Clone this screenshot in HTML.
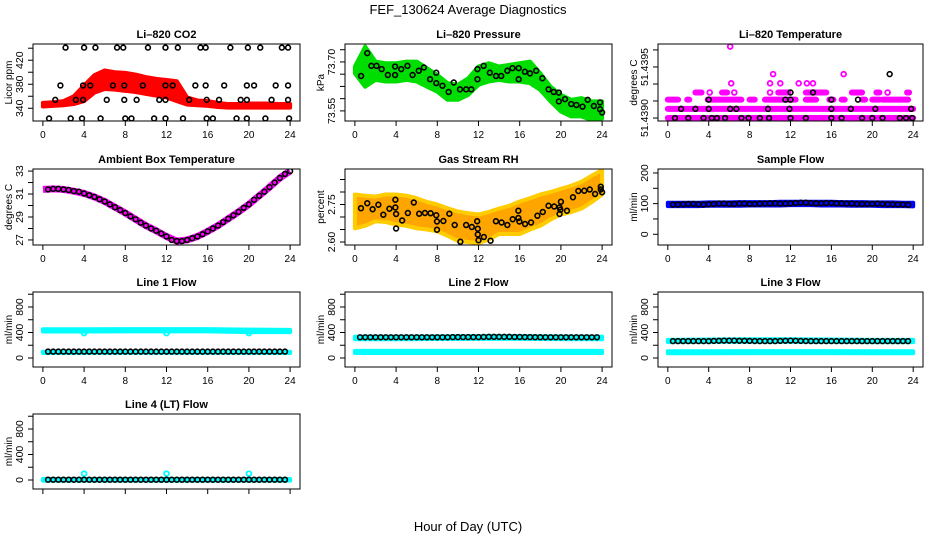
<!DOCTYPE html>
<html><head><meta charset="utf-8"><style>
body{margin:0;background:#fff}
svg{display:block;font-family:"Liberation Sans",Arial,sans-serif}
</style></head><body>
<svg id="c" width="936" height="540" viewBox="0 0 936 540">
<text x="468" y="14" text-anchor="middle" font-size="13">FEF_130624  Average Diagnostics</text>
<text x="468" y="531" text-anchor="middle" font-size="13">Hour of Day (UTC)</text>
</svg>
<script>
// ---------- data ----------
const H25=[0,1,2,3,4,5,6,7,8,9,10,11,12,13,14,15,16,17,18,19,20,21,22,23,24];
const H7=[0,4,8,12,16,20,24];
const xTicks=[0,4,8,12,16,20,24];
// CO2
const co2Lo=[343,344,345,347,352,366,372,371,369,367,364,361,358,352,346,345,344,342,341,341,341,341,341,341,341];
const co2Hi=[349,350,352,360,378,395,403,400,399,396,392,389,387,385,358,353,352,349,347,347,348,348,348,347,347];
const co2AvgH=[2.2,4.0,5.1,7.2,7.8,10.2,11.9,13.1,15.3,15.8,18.2,19.9,21.1,23.2,23.8, 1.7,3.9,4.6,6.8,7.9,9.7,11.9,12.6,14.8,15.8,17.6,19.8,20.5,22.6,23.8, 1.2,3.2,3.9,6.2,7.9,9.1,11.3,11.9,14.2,15.9,17.1,19.2,19.8,22.2,23.8, 0.6,2.7,3.8,5.6,8.0,8.6,10.8,11.9,13.6,15.9,16.5,18.8,19.8,21.6,23.9];
const co2AvgV=[441,441,441,441,441,441,441,441,441,441,441,441,441,441,441, 378,378,378,378,378,378,378,378,378,378,378,378,378,378,378, 354,354,354,354,354,354,354,354,354,354,354,354,354,354,354, 323,323,323,323,323,323,323,323,323,323,323,323,323,323,323];
// Pressure
const prLo=[73.665,73.624,73.645,73.640,73.640,73.645,73.640,73.624,73.609,73.584,73.584,73.599,73.630,73.640,73.645,73.640,73.640,73.635,73.614,73.579,73.548,73.533,73.533,73.522,73.527];
const prHi=[73.686,73.747,73.701,73.696,73.696,73.701,73.701,73.681,73.660,73.635,73.630,73.650,73.686,73.696,73.686,73.691,73.696,73.701,73.665,73.624,73.599,73.584,73.589,73.579,73.579];
const prAvgH=[0.6,1.2,1.6,2.1,2.6,3.2,3.9,3.9,4.5,5.1,5.6,6.2,6.7,7.3,7.9,7.9,8.5,9.1,9.6,10.2,10.8,11.3,11.9,11.9,12.5,13.1,13.7,14.2,14.8,15.3,15.9,15.9,16.5,17.0,17.6,18.2,18.8,19.3,19.8,19.8,20.4,21.0,21.5,22.1,22.6,23.2,23.8,23.8,24.0];
const prAvgV=[73.657,73.727,73.688,73.688,73.678,73.660,73.686,73.660,73.678,73.688,73.660,73.673,73.683,73.647,73.667,73.635,73.627,73.608,73.637,73.616,73.616,73.616,73.678,73.647,73.688,73.667,73.657,73.657,73.673,73.681,73.681,73.647,73.670,73.665,73.673,73.650,73.616,73.608,73.606,73.579,73.586,73.571,73.568,73.563,73.584,73.565,73.576,73.555,73.545];
// Li-820 temperature (quantized levels)
const tLevels=[51.43900,51.43909,51.43918,51.43925,51.43934,51.43943,51.43970];
const tSegLevel=[0,1,2,2,2,2,2,2,2,2,2,2,2,3,3,3,3,3,3,3];
const tSegStart=[0,0,0,1.9,3.9,8.0,9.5,13.5,15.8,17.0,19.0,20.0,21.0,2.7,5.3,10.8,13.5,18.0,20.4,23.4];
const tSegEnd=[24,24,1.0,2.1,7.2,8.5,12.5,14.5,16.2,17.3,19.3,20.7,23.5,3.3,5.8,11.8,15.5,19.0,20.7,23.6];
const tPtH=[4.1,6.5,10.0,21.5,6.2,10.0,11.0,12.8,13.6,14.2,10.3,17.2,6.1];
const tPtL=[3,3,3,3,4,4,4,4,4,4,5,5,6];
const tAvgH=[0.7,2.0,3.5,4.3,4.8,5.6,7.2,7.9,9.0,9.9,12.0,13.5,16.0,17.0,19.0,20.0,21.0,22.7,23.3,23.9,1.3,2.7,4.0,6.1,6.7,9.8,11.9,16.0,17.9,20.3,23.8,4.0,11.5,12.0,16.0,18.6,12.0,14.2,21.7];
const tAvgL=[0,0,0,0,0,0,0,0,0,0,0,0,0,0,0,0,0,0,0,0,1,1,1,1,1,1,1,1,1,1,1,2,2,2,2,2,3,3,5];
// Ambient box temperature
const ambBand=[31.4,31.45,31.4,31.25,31.05,30.75,30.35,29.85,29.35,28.8,28.25,27.8,27.3,26.9,27.0,27.3,27.75,28.25,28.85,29.45,30.1,30.85,31.6,32.4,33.0];
const ambAvg=[31.4,31.45,31.45,31.4,31.35,31.25,31.2,31.05,30.9,30.75,30.55,30.35,30.1,29.85,29.6,29.35,29.05,28.8,28.5,28.25,28.0,27.8,27.55,27.3,27.0,26.9,26.9,27.0,27.15,27.3,27.5,27.75,28.0,28.25,28.55,28.85,29.15,29.45,29.8,30.1,30.5,30.85,31.2,31.6,32.0,32.4,32.75,33.0];
// Gas stream RH
const rhLo=[2.655,2.665,2.683,2.680,2.67,2.665,2.655,2.650,2.643,2.625,2.604,2.600,2.596,2.610,2.632,2.632,2.632,2.650,2.665,2.690,2.71,2.72,2.734,2.76,2.79];
const rhHi=[2.79,2.785,2.782,2.79,2.79,2.785,2.775,2.76,2.75,2.735,2.722,2.715,2.71,2.72,2.734,2.745,2.762,2.775,2.79,2.80,2.813,2.825,2.841,2.865,2.888];
const rhAvgH=[0.59,1.2,1.72,2.28,2.76,3.35,3.93,3.93,4.0,4.0,4.59,5.14,5.72,6.24,6.8,7.35,7.9,7.97,7.97,8.59,9.17,9.69,10.24,10.8,11.35,11.87,11.93,11.93,12.0,12.52,13.17,13.69,14.24,14.8,15.32,15.87,15.87,15.97,16.52,17.1,17.72,18.24,18.8,19.35,19.87,19.87,19.95,20.0,20.59,21.17,21.69,22.27,22.8,23.32,23.87,23.87,24.0];
const rhAvgV=[2.735,2.755,2.731,2.749,2.709,2.733,2.769,2.738,2.712,2.654,2.686,2.716,2.758,2.713,2.716,2.715,2.707,2.682,2.649,2.684,2.713,2.668,2.601,2.668,2.660,2.683,2.653,2.630,2.607,2.620,2.605,2.683,2.678,2.668,2.691,2.725,2.696,2.682,2.672,2.678,2.705,2.720,2.745,2.742,2.738,2.712,2.729,2.761,2.725,2.779,2.804,2.805,2.810,2.792,2.821,2.810,2.799];
// Sample flow
const sfLo=[92,92,92,92,93,93,93,93,94,94,94,94,95,95,95,94,94,94,93,93,93,92,92,92,91];
const sfHi=[103,103,103,103,104,104,104,105,105,105,105,106,106,106,106,106,106,105,105,105,104,104,104,103,103];
const sfAvg=[97,97,98,99,99,98,97,98,99,100,100,99,99,100,100,99,99,100,100,101,101,100,100,101,102,103,103,102,101,101,102,102,101,101,100,100,99,99,99,99,100,99,98,98,97,97,96];
// Line flows (cyan bands lo/hi at H7, black averages every 0.5 h)
const l1UpLo=[415,415,418,418,418,405,405], l1UpHi=[450,450,452,452,452,445,442];
const l1DnLo=[78,80,82,82,82,80,78], l1DnHi=[98,100,102,102,102,100,98];
const l1Out=[390,390,390];
const l2UpLo=[295,295,298,300,300,296,295], l2UpHi=[335,338,340,345,345,340,335];
const l2DnLo=[78,78,78,78,78,78,78], l2DnHi=[112,112,112,112,112,112,112];
const l3UpLo=[250,252,255,255,252,250,250], l3UpHi=[285,290,295,295,290,285,285];
const l3DnLo=[75,75,76,76,76,75,75], l3DnHi=[105,106,108,108,108,106,105];
const l4Lo=[-10,-10,-10,-10,-10,-10,-10], l4Hi=[15,15,15,15,15,15,15];
const l4Out=[100,100,100];
const outH=[4,12,20];
const l1Avg=[100,100,100,100,100,100,100,100,100,100,100,100,100,100,100,100,100,100,100,100,100,100,100,100,100,100,100,100,100,100,100,100,100,100,100,100,100,100,100,100,100,100,100,100,100,100,100];
const l2Avg=[325,325,325,325,325,325,325,325,325,325,325,325,325,325,325,325,325,325,328,328,328,328,328,328,330,332,332,332,332,332,330,330,328,328,326,326,325,325,325,325,325,325,325,325,325,325,325];
const l3Avg=[265,265,265,265,265,265,265,265,268,270,272,272,272,270,270,268,266,265,265,265,265,268,270,272,270,268,266,265,265,265,265,265,265,265,265,265,265,265,265,265,265,265,265,265,265,265,265];
const l4Avg=[5,5,5,5,5,5,5,5,5,5,5,5,5,5,5,5,5,5,5,5,5,5,5,5,5,5,5,5,5,5,5,5,5,5,5,5,5,5,5,5,5,5,5,5,5,5,5];
const halfHours=[0.5,1,1.5,2,2.5,3,3.5,4,4.5,5,5.5,6,6.5,7,7.5,8,8.5,9,9.5,10,10.5,11,11.5,12,12.5,13,13.5,14,14.5,15,15.5,16,16.5,17,17.5,18,18.5,19,19.5,20,20.5,21,21.5,22,22.5,23,23.5];
const ambHours=[0.5,1,1.5,2,2.5,3,3.5,4,4.5,5,5.5,6,6.5,7,7.5,8,8.5,9,9.5,10,10.5,11,11.5,12,12.5,13,13.5,14,14.5,15,15.5,16,16.5,17,17.5,18,18.5,19,19.5,20,20.5,21,21.5,22,22.5,23,23.5,24];

// ---------- drawing ----------
const NS='http://www.w3.org/2000/svg';
const svg=document.getElementById('c');
function E(tag,at,parent){const e=document.createElementNS(NS,tag);for(const k in at)e.setAttribute(k,at[k]);(parent||svg).appendChild(e);return e;}
const COLS=[[33,300],[345,612],[658,923]];
const ROWS=[[44,121],[169,245],[292,367],[414,489]];

function panel(c,r,name,title,ylab,ymin,ymax,yt,yl){
  const [l,rr]=COLS[c],[t,b]=ROWS[r];
  const g=E('g',{});
  
  
  const sx=h=>l+(h+0.96)/25.92*(rr-l);
  const sy=v=>b-(v-ymin)/(ymax-ymin)*(b-t);
  const tt=E('text',{x:(l+rr)/2,y:t-6,'text-anchor':'middle','font-size':11,'font-weight':'bold'},g);
  tt.textContent=title;
  
  
  const xa=E('g',{},g);
  
  
  E('line',{x1:sx(0),x2:sx(24),y1:b,y2:b,stroke:'#000'},xa);
  xTicks.forEach(h=>{E('line',{x1:sx(h),x2:sx(h),y1:b,y2:b+5,stroke:'#000'},xa);
    if(r<3){const tx=E('text',{x:sx(h),y:b+17,'text-anchor':'middle','font-size':10},xa);tx.textContent=h;}});
  const ya=E('g',{},g);
  
  
  E('line',{x1:l,x2:l,y1:sy(yt[0]),y2:sy(yt[yt.length-1]),stroke:'#000'},ya);
  yt.forEach((v,i)=>{E('line',{x1:l-5,x2:l,y1:sy(v),y2:sy(v),stroke:'#000'},ya);
    if(yl[i]!==''){const tx=E('text',{x:l-10,y:sy(v),'text-anchor':'middle','font-size':10.5,transform:`rotate(-90 ${l-10} ${sy(v)})`},ya);tx.textContent=yl[i];}});
  const yt2=E('text',{x:l-21,y:(t+b)/2,'text-anchor':'middle','font-size':10,transform:`rotate(-90 ${l-21} ${(t+b)/2})`},g);
  yt2.textContent=ylab;
  
  
  const cp='cp'+name;
  const d=E('defs',{},g);const cpe=E('clipPath',{id:cp},d);E('rect',{x:l,y:t,width:rr-l,height:b-t},cpe);
  const plot=E('g',{'clip-path':`url(#${cp})`},g);
  const box=E('rect',{x:l,y:t,width:rr-l,height:b-t,fill:'none',stroke:'#000'},g);
  
  
  return {sx,sy,plot,g};
}
function band(P,hs,lo,hi,fill,stroke,nm){
  let pts=hs.map((h,i)=>P.sx(h)+','+P.sy(hi[i]));
  pts=pts.concat(hs.map((h,i)=>P.sx(h)+','+P.sy(lo[i])).reverse());
  const p=E('polygon',{points:pts.join(' '),fill:fill,stroke:stroke,'stroke-width':4,'stroke-linejoin':'round'},P.plot);
  
  
}
function pts(P,hs,vs,col,nm,sw){
  const g=E('g',{},P.plot);
  
  
  hs.forEach((h,i)=>E('circle',{cx:P.sx(h),cy:P.sy(vs[i]),r:2.4,fill:'none',stroke:col,'stroke-width':sw||1.6},g));
}

// CO2
let P=panel(0,0,'co2','Li\u2013820 CO2','Licor ppm',318.8,447,[340,360,380,400,420,440],['340','','380','','420','']);
band(P,H25,co2Lo,co2Hi,'#ff0000','#ff0000','co2-band');
pts(P,co2AvgH,co2AvgV,'#000','co2-averages');
// Pressure
P=panel(1,0,'pressure','Li\u2013820 Pressure','kPa',73.519,73.755,[73.55,73.5875,73.625,73.6625,73.70,73.7375],['73.55','','','','73.70','']);
band(P,H25,prLo,prHi,'#00dd00','#00dd00','pressure-band');
pts(P,prAvgH,prAvgV,'#000','pressure-averages');
// Li-820 temperature
P=panel(2,0,'li820-temp','Li\u2013820 Temperature','degrees C',51.438971,51.439725,[51.4390,51.439167,51.439333,51.4395,51.439667],['51.4390','','','51.4395','']);
{const g=E('g',{},P.plot);
 
 
 tSegLevel.forEach((lv,i)=>E('line',{x1:P.sx(tSegStart[i]),x2:P.sx(tSegEnd[i]),y1:P.sy(tLevels[lv]),y2:P.sy(tLevels[lv]),stroke:'#ff00ff','stroke-width':6,'stroke-linecap':'round'},g));
 pts(P,tPtH,tPtL.map(k=>tLevels[k]),'#ff00ff','li820-temp-outliers',1.8);
 pts(P,tAvgH,tAvgL.map(k=>tLevels[k]),'#000','li820-temp-averages');}
// Ambient
P=panel(0,1,'ambient','Ambient Box Temperature','degrees C',26.56,33.18,[27,28,29,30,31,32,33],['27','','29','','31','','33']);
{const pl=E('polyline',{points:H25.map((h,i)=>P.sx(h)+','+P.sy(ambBand[i])).join(' '),fill:'none',stroke:'#ff00ff','stroke-width':7,'stroke-linejoin':'round'},P.plot);
 
 }
pts(P,ambHours,ambAvg,'#000','ambient-averages');
// RH
P=panel(1,1,'rh','Gas Stream RH','percent',2.588,2.892,[2.60,2.65,2.70,2.75,2.80,2.85],['2.60','','','2.75','','']);
band(P,H25,rhLo,rhHi,'#ffa500','#ffcc00','rh-band');
pts(P,rhAvgH,rhAvgV,'#000','rh-averages');
// Sample flow
P=panel(2,1,'sample-flow','Sample Flow','ml/min',-35,213,[0,50,100,150,200],['0','','100','','200']);
band(P,H25,sfLo,sfHi,'#0000ff','#0000ff','sample-flow-band');
pts(P,halfHours,sfAvg,'#000','sample-flow-averages');
// Line flows
const fT=[0,200,400,600,800,1000],fL=['0','','400','','800',''];
P=panel(0,2,'line1','Line 1 Flow','ml/min',-141,1035,fT,fL);
band(P,H7,l1UpLo,l1UpHi,'#00ffff','#00ffff','line1-upper-band');
band(P,H7,l1DnLo,l1DnHi,'#00ffff','#00ffff','line1-lower-band');
pts(P,outH,l1Out,'#00ffff','line1-outliers',1.8);
pts(P,halfHours,l1Avg,'#000','line1-averages');
P=panel(1,2,'line2','Line 2 Flow','ml/min',-141,1035,fT,fL);
band(P,H7,l2UpLo,l2UpHi,'#00ffff','#00ffff','line2-upper-band');
band(P,H7,l2DnLo,l2DnHi,'#00ffff','#00ffff','line2-lower-band');
pts(P,halfHours,l2Avg,'#000','line2-averages');
P=panel(2,2,'line3','Line 3 Flow','ml/min',-141,1035,fT,fL);
band(P,H7,l3UpLo,l3UpHi,'#00ffff','#00ffff','line3-upper-band');
band(P,H7,l3DnLo,l3DnHi,'#00ffff','#00ffff','line3-lower-band');
pts(P,halfHours,l3Avg,'#000','line3-averages');
P=panel(0,3,'line4','Line 4 (LT) Flow','ml/min',-141,1035,fT,fL);
band(P,H7,l4Lo,l4Hi,'#00ffff','#00ffff','line4-band');
pts(P,outH,l4Out,'#00ffff','line4-outliers',1.8);
pts(P,halfHours,l4Avg,'#000','line4-averages');
</script>
</body></html>
